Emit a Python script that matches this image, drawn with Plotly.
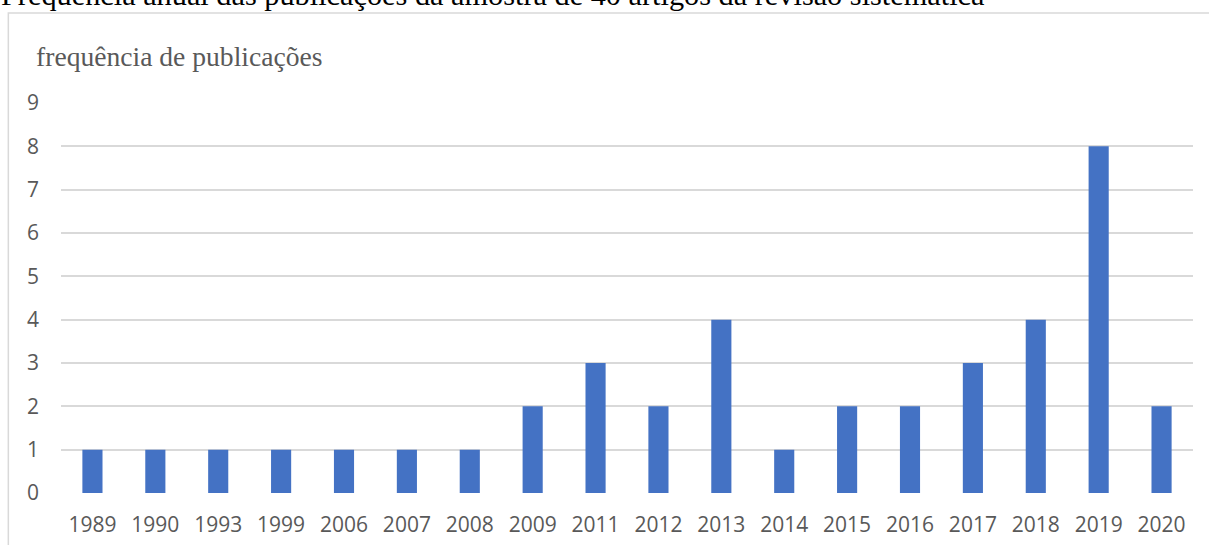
import plotly.graph_objects as go

years = ["1989", "1990", "1993", "1999", "2006", "2007", "2008", "2009", "2011",
         "2012", "2013", "2014", "2015", "2016", "2017", "2018", "2019", "2020"]
counts = [1, 1, 1, 1, 1, 1, 1, 2, 3, 2, 4, 1, 2, 2, 3, 4, 8, 2]
y_ticks = list(range(0, 10))

W, H = 1209, 545
L, R, T, B = 60.7, 1193.3, 103.3, 492.7

fig = go.Figure(go.Bar(
    x=years, y=counts,
    marker=dict(color="#4472C4", line=dict(width=0)),
    width=0.32,
))

pw = R - L
ph = B - T

def px_x(x):
    return (x - L) / pw

def px_y(y):
    return (B - y) / ph

fig.update_layout(
    width=W, height=H,
    margin=dict(l=L, r=W - R, t=T, b=H - B, pad=0, autoexpand=False),
    paper_bgcolor="white", plot_bgcolor="white",
    showlegend=False,
    bargap=0.68,
    xaxis=dict(
        type="category", showgrid=False, zeroline=False,
        showline=False, ticks="", automargin=False,
        tickfont=dict(family="Open Sans", size=21, color="#595959"),
        ticklabelstandoff=17,
    ),
    yaxis=dict(
        range=[0, 9], tickvals=y_ticks, showgrid=True,
        gridcolor="#D9D9D9", gridwidth=1.5, zeroline=False,
        showline=False, ticks="", automargin=False,
        tickfont=dict(family="Open Sans", size=21, color="#595959"),
        ticklabelstandoff=21,
    ),
    shapes=[
        dict(type="rect", xref="paper", yref="paper",
             x0=px_x(8), x1=px_x(1212), y0=px_y(560), y1=px_y(13.5),
             line=dict(color="#D9D9D9", width=1.5), fillcolor="rgba(0,0,0,0)",
             layer="below"),
    ],
    annotations=[
        dict(text="Frequência anual das publicações da amostra de 40 artigos da revisão sistemática",
             xref="paper", yref="paper", x=px_x(-1), y=px_y(14),
             xanchor="left", yanchor="bottom", showarrow=False,
             font=dict(family="Liberation Serif", size=30.3, color="black")),
        dict(text="frequência de publicações",
             xref="paper", yref="paper", x=px_x(34), y=px_y(57),
             xanchor="left", yanchor="middle", showarrow=False,
             font=dict(family="Liberation Serif", size=27.6, color="#595959")),
    ],
)

fig.write_html("out.html", config={"displayModeBar": False},
               post_script="document.body.style.margin='0';document.body.style.overflow='hidden';")
